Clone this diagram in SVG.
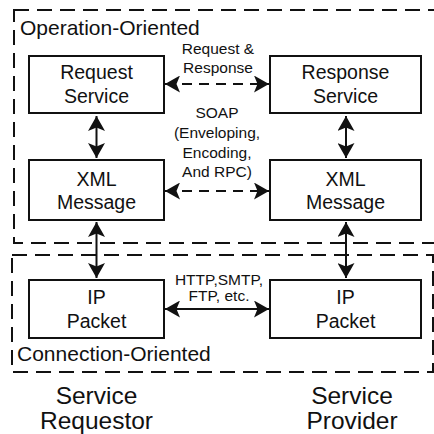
<svg xmlns="http://www.w3.org/2000/svg" width="434" height="434" viewBox="0 0 434 434">
<style>
text{font-family:"Liberation Sans",Arial,sans-serif;fill:#111;text-anchor:middle}
.box{fill:#fff;stroke:#111;stroke-width:2}
.region{fill:none;stroke:#111;stroke-width:2;stroke-dasharray:15 8}
.lbl{font-size:19.5px}
.small{font-size:15.5px}
.big{font-size:24.5px}
.zone{font-size:21px;text-anchor:start}
.conn{stroke:#111;stroke-width:2;fill:none}
.dash{stroke-dasharray:10 7}
</style>
<defs>
<marker id="ah" viewBox="0 0 15 17" markerWidth="15" markerHeight="17" refX="15" refY="8.5" orient="auto-start-reverse" markerUnits="userSpaceOnUse">
<path d="M0,0 L15,8.5 L0,17 L3.5,8.5 z" fill="#111"/>
</marker>
</defs>
<rect class="region" x="14" y="10" width="440" height="233"/>
<rect class="region" x="12" y="255" width="421" height="117"/>
<text class="zone" x="20" y="35">Operation-Oriented</text>
<text class="zone" x="17" y="361">Connection-Oriented</text>
<g id="request-service"><rect class="box" x="29" y="56" width="135" height="57"/><text class="lbl" x="96.5" y="79">Request</text><text class="lbl" x="96.5" y="103">Service</text></g>
<g id="response-service"><rect class="box" x="270" y="56" width="151" height="57"/><text class="lbl" x="345.5" y="79">Response</text><text class="lbl" x="345.5" y="103">Service</text></g>
<g id="xml-left"><rect class="box" x="29" y="160" width="135" height="60"/><text class="lbl" x="96.5" y="186">XML</text><text class="lbl" x="96.5" y="209">Message</text></g>
<g id="xml-right"><rect class="box" x="270" y="160" width="151" height="60"/><text class="lbl" x="345.5" y="186">XML</text><text class="lbl" x="345.5" y="209">Message</text></g>
<g id="ip-left"><rect class="box" x="29" y="280" width="135" height="58"/><text class="lbl" x="96.5" y="304">IP</text><text class="lbl" x="96.5" y="328">Packet</text></g>
<g id="ip-right"><rect class="box" x="270" y="280" width="151" height="58"/><text class="lbl" x="345.5" y="304">IP</text><text class="lbl" x="345.5" y="328">Packet</text></g>
<g id="connectors">
<line class="conn dash" x1="165" y1="84" x2="269" y2="84" marker-start="url(#ah)" marker-end="url(#ah)"/>
<line class="conn dash" x1="165" y1="191" x2="269" y2="191" marker-start="url(#ah)" marker-end="url(#ah)"/>
<line class="conn" x1="165" y1="309" x2="269" y2="309" marker-start="url(#ah)" marker-end="url(#ah)"/>
<line class="conn" x1="96.5" y1="116" x2="96.5" y2="158" marker-start="url(#ah)" marker-end="url(#ah)"/>
<line class="conn" x1="346" y1="116" x2="346" y2="158" marker-start="url(#ah)" marker-end="url(#ah)"/>
<line class="conn" x1="96.5" y1="222" x2="96.5" y2="278" marker-start="url(#ah)" marker-end="url(#ah)"/>
<line class="conn" x1="346" y1="222" x2="346" y2="278" marker-start="url(#ah)" marker-end="url(#ah)"/>
</g>
<text class="small" x="218" y="54">Request &amp;</text>
<text class="small" x="218" y="73">Response</text>
<text class="small" x="217" y="118">SOAP</text>
<text class="small" x="217" y="138">(Enveloping,</text>
<text class="small" x="217" y="158">Encoding,</text>
<text class="small" x="217" y="177">And RPC)</text>
<text class="small" x="219" y="285">HTTP,SMTP,</text>
<text class="small" x="219" y="301">FTP, etc.</text>
<text class="big" x="96.5" y="404">Service</text>
<text class="big" x="96.5" y="429">Requestor</text>
<text class="big" x="352" y="404">Service</text>
<text class="big" x="352" y="429">Provider</text>
</svg>
